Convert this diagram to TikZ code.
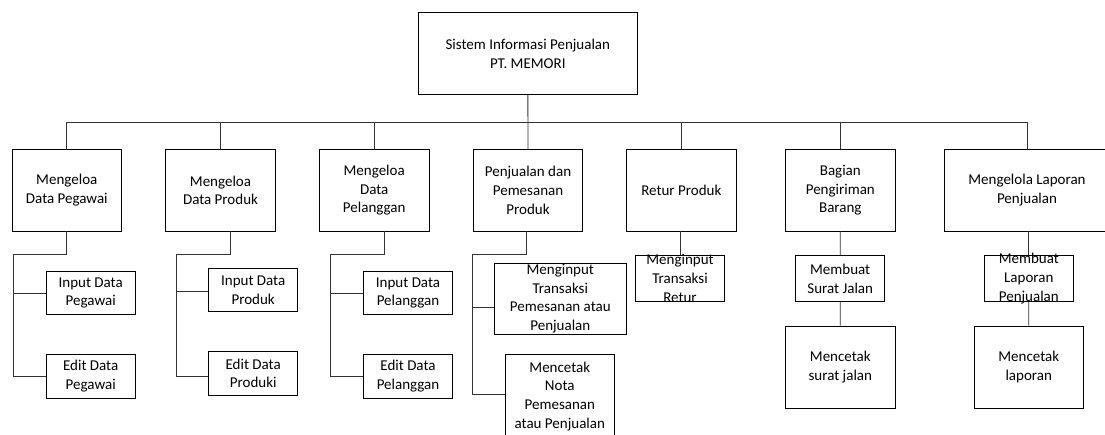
\documentclass[tikz,border=0pt]{standalone}
\usepackage{fontspec}
\setmainfont{Carlito}
\usepackage{tikz}
\usetikzlibrary{positioning, calc}

\begin{document}
\begin{tikzpicture}[x=1pt, y=-1pt, line width=0.8pt,
	every node/.style={font=\fontsize{15}{18.7}\selectfont, align=center, inner sep=0pt},
	induk/.style={draw, minimum width=109.5pt, minimum height=81.7pt},
	anak/.style={draw, minimum width=89.2pt, minimum height=43.7pt},
	besar/.style={draw, minimum width=109.3pt, minimum height=82.3pt},
	garis/.style={draw=black!80}]
	\useasboundingbox (0,0) rectangle (1105,434);
	\clip (0,0) rectangle (1105,434);
	
	\node[induk, minimum width=219pt] (root) at (527.8,53.5) {Sistem Informasi Penjualan\\PT. MEMORI};
	
	\node[induk] (m1) at (66.8,190.2) {Mengeloa\\Data Pegawai};
	\node[induk] (m2) at (220.5,190.2) {Mengeloa\\Data Produk};
	\node[induk] (m3) at (374.2,190.2) {Mengeloa\\Data\\Pelanggan};
	\node[induk] (m4) at (528,190.2) {Penjualan dan\\Pemesanan\\Produk};
	\node[induk] (m5) at (681.3,190.2) {Retur Produk};
	\node[induk] (m6) at (840.3,190.2) {Bagian\\Pengiriman\\Barang};
	\node[induk, minimum width=166pt] (m7) at (1027,190.2) {Mengelola Laporan\\Penjualan};
	
	\coordinate (bus) at (527.8,122);
	\draw[garis] (root) -- (m4);
	\foreach \n in {m1, m2, m3, m5, m6, m7}
	\draw[garis] (\n.north) |- (bus);
	
	\node[anak] (a1) at (90.7,292.9) {Input Data\\Pegawai};
	\node[anak] (b1) at (90.7,376.3) {Edit Data\\Pegawai};
	\node[anak] (a2) at (253.2,290) {Input Data\\Produk};
	\node[anak] (b2) at (253.2,373.3) {Edit Data\\Produki};
	\node[anak] (a3) at (408,292.9) {Input Data\\Pelanggan};
	\node[anak] (b3) at (408,376.3) {Edit Data\\Pelanggan};
	
	\coordinate (s1) at (13.3,254.7);
	\coordinate (s2) at (176,254.7);
	\coordinate (s3) at (330.7,254.7);
	\draw[garis] (m1.south) |- (s1) |- (b1.west);
	\draw[garis] (a1.west) -| (s1);
	\draw[garis] ([xshift=9.5pt]m2.south) |- (s2) |- ([yshift=-2.7pt]b2.west);
	\draw[garis] ([yshift=-1.7pt]a2.west) -| (s2);
	\draw[garis] ([xshift=9.8pt]m3.south) |- (s3) |- (b3.west);
	\draw[garis] (a3.west) -| (s3);
	
	\node[anak, minimum width=132.7pt, minimum height=70.7pt] (c1) at (560.3,298.7) {Menginput\\Transaksi\\Pemesanan atau\\Penjualan};
	\node[anak, minimum width=109pt, minimum height=83.7pt] (c2) at (559.8,396.2) {Mencetak\\Nota\\Pemesanan\\atau Penjualan};
	\coordinate (s4) at (472.7,254.5);
	\draw[garis] ([xshift=-2pt]m4.south) |- (s4) |- ([yshift=1.9pt]c2.west);
	\draw[garis] ([yshift=-9pt]c1.west) -| (s4);
	
	\node[anak, minimum height=46.7pt, label={center:Menginput\\Transaksi\\Retur}] (r1) at (680,278.3) {};
	\draw[garis] (r1.north) -- (r1.north |- m5.south);
	
	\node[anak, minimum height=46pt] (g1) at (840.2,278.7) {Membuat\\Surat Jalan};
	\node[besar] (g2) at (840.3,367.2) {Mencetak\\surat jalan};
	\draw[garis] (m6) -- (g1) -- (g2);
	
	\node[anak, minimum height=46pt, label={center:Membuat\\Laporan\\Penjualan}] (l1) at (1028.8,278.7) {};
	\node[besar] (l2) at (1028.7,367.2) {Mencetak\\laporan};
	\draw[garis] (l1.north) -- (l1.north |- m7.south);
	\draw[garis] (l1) -- (l2);
\end{tikzpicture}
\end{document}
